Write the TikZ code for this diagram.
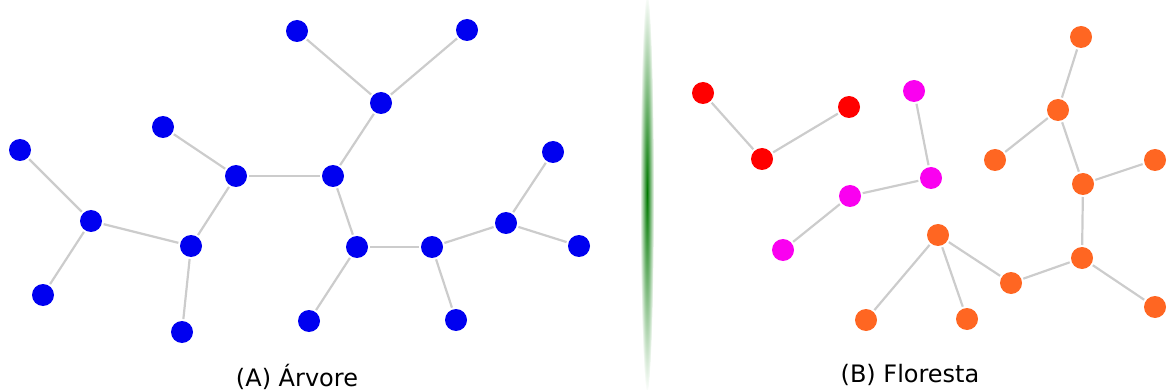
\documentclass[tikz,border=0pt]{standalone}
\usepackage{fontspec}
\setmainfont{DejaVu Sans}
\definecolor{edgegray}{RGB}{204,204,204}
\definecolor{treeblue}{RGB}{0,0,240}
\definecolor{fred}{RGB}{255,0,0}
\definecolor{fmag}{RGB}{250,0,240}
\definecolor{forange}{RGB}{255,102,34}
\definecolor{divgreen}{RGB}{0,120,0}
\begin{document}
\begin{tikzpicture}[x=1pt,y=-1pt,
  vtx/.style={circle,minimum size=22pt,inner sep=0pt,outer sep=2pt},
  bv/.style={vtx,fill=treeblue},
  rv/.style={vtx,fill=fred},
  mv/.style={vtx,fill=fmag},
  ov/.style={vtx,fill=forange},
  edge/.style={draw=edgegray,line width=2.2pt},
  lbl/.style={font=\fontsize{24}{28}\selectfont}]
\useasboundingbox (0,0) rectangle (1170,390);
% tree (A)
\node[bv] (a1) at (297,31) {};
\node[bv] (a2) at (467,30) {};
\node[bv] (a3) at (381,103) {};
\node[bv] (a4) at (163,127) {};
\node[bv] (a5) at (20,150) {};
\node[bv] (a6) at (236,176) {};
\node[bv] (a7) at (333,176) {};
\node[bv] (a8) at (553,152) {};
\node[bv] (a9) at (91,221) {};
\node[bv] (a10) at (506,223) {};
\node[bv] (a11) at (191,246) {};
\node[bv] (a12) at (357,247) {};
\node[bv] (a13) at (432,247) {};
\node[bv] (a14) at (579,246) {};
\node[bv] (a15) at (43,295) {};
\node[bv] (a16) at (182,332) {};
\node[bv] (a17) at (309,321) {};
\node[bv] (a18) at (456,320) {};
\draw[edge] (a1) -- (a3);
\draw[edge] (a2) -- (a3);
\draw[edge] (a3) -- (a7);
\draw[edge] (a7) -- (a6);
\draw[edge] (a4) -- (a6);
\draw[edge] (a6) -- (a11);
\draw[edge] (a11) -- (a9);
\draw[edge] (a9) -- (a5);
\draw[edge] (a9) -- (a15);
\draw[edge] (a11) -- (a16);
\draw[edge] (a7) -- (a12);
\draw[edge] (a12) -- (a17);
\draw[edge] (a12) -- (a13);
\draw[edge] (a13) -- (a18);
\draw[edge] (a13) -- (a10);
\draw[edge] (a10) -- (a8);
\draw[edge] (a10) -- (a14);
\node[lbl] (ta) at (297,377) {(A) Árvore};
% divider
\shade[inner color=divgreen,outer color=white] (647,193) ellipse (7 and 200);
% forest (B)
\node[rv] (r1) at (703,93) {};
\node[rv] (r2) at (762,159) {};
\node[rv] (r3) at (849,107) {};
\draw[edge] (r1) -- (r2);
\draw[edge] (r2) -- (r3);
\node[mv] (m1) at (914,91) {};
\node[mv] (m2) at (931,178) {};
\node[mv] (m3) at (850,196) {};
\node[mv] (m4) at (783,250) {};
\draw[edge] (m1) -- (m2);
\draw[edge] (m2) -- (m3);
\draw[edge] (m3) -- (m4);
\node[ov] (o1) at (1081,37) {};
\node[ov] (o2) at (1058,110) {};
\node[ov] (o3) at (995,160) {};
\node[ov] (o4) at (1083,184) {};
\node[ov] (o5) at (1155,160) {};
\node[ov] (o6) at (1082,258) {};
\node[ov] (o7) at (938,235) {};
\node[ov] (o8) at (1011,283) {};
\node[ov] (o9) at (866,320) {};
\node[ov] (o10) at (967,319) {};
\node[ov] (o11) at (1155,307) {};
\draw[edge] (o1) -- (o2);
\draw[edge] (o2) -- (o3);
\draw[edge] (o2) -- (o4);
\draw[edge] (o4) -- (o5);
\draw[edge] (o4) -- (o6);
\draw[edge] (o6) -- (o8);
\draw[edge] (o6) -- (o11);
\draw[edge] (o8) -- (o7);
\draw[edge] (o7) -- (o9);
\draw[edge] (o7) -- (o10);
\node[lbl] (tb) at (910,375) {(B) Floresta};
\end{tikzpicture}
\end{document}
